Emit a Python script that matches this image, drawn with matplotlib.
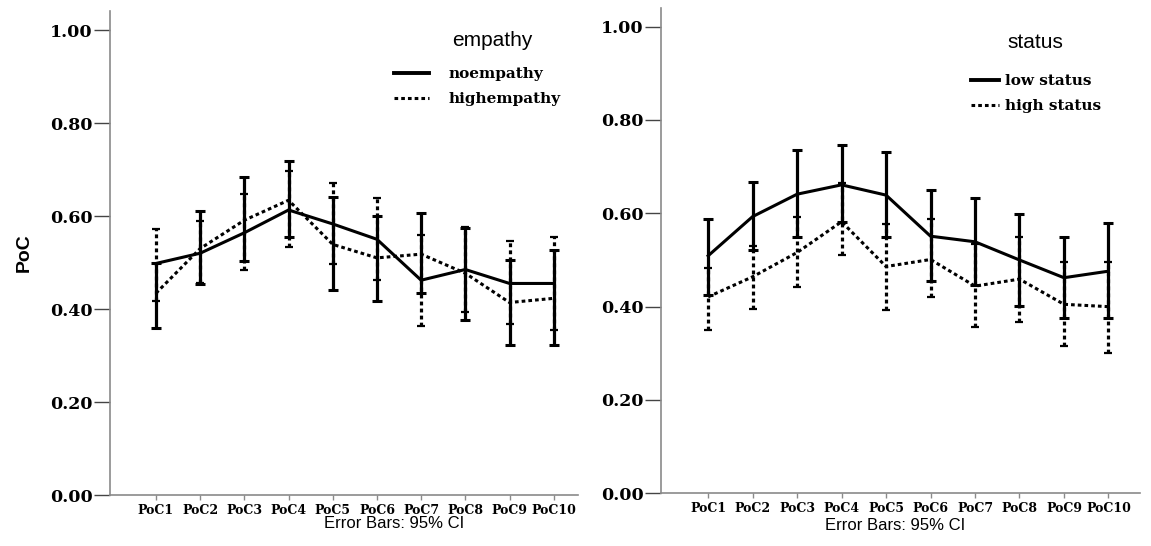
import numpy as np
import matplotlib.pyplot as plt
from matplotlib.lines import Line2D

# categorias
cats = ['PoC1', 'PoC2', 'PoC3', 'PoC4', 'PoC5', 'PoC6', 'PoC7', 'PoC8', 'PoC9', 'PoC10']

# painel esquerdo: empathy
noemp_mean = [0.498, 0.520, 0.564, 0.613, 0.583, 0.550, 0.462, 0.485, 0.455, 0.455]
noemp_lo   = [0.360, 0.453, 0.504, 0.554, 0.441, 0.418, 0.434, 0.376, 0.323, 0.323]
noemp_hi   = [0.500, 0.611, 0.683, 0.719, 0.642, 0.600, 0.606, 0.575, 0.505, 0.527]
highemp_mean = [0.434, 0.530, 0.591, 0.634, 0.539, 0.510, 0.518, 0.477, 0.414, 0.423]
highemp_lo   = [0.417, 0.455, 0.484, 0.534, 0.497, 0.462, 0.363, 0.394, 0.367, 0.355]
highemp_hi   = [0.573, 0.590, 0.647, 0.697, 0.670, 0.638, 0.559, 0.576, 0.547, 0.554]

# painel direito: status
low_mean = [0.509, 0.593, 0.641, 0.661, 0.639, 0.551, 0.539, 0.500, 0.462, 0.476]
low_lo   = [0.425, 0.521, 0.549, 0.582, 0.549, 0.456, 0.446, 0.402, 0.375, 0.376]
low_hi   = [0.588, 0.667, 0.736, 0.746, 0.731, 0.649, 0.632, 0.599, 0.549, 0.580]
high_mean = [0.421, 0.464, 0.516, 0.582, 0.486, 0.501, 0.444, 0.459, 0.405, 0.400]
high_lo   = [0.351, 0.396, 0.443, 0.511, 0.393, 0.421, 0.357, 0.368, 0.315, 0.300]
high_hi   = [0.482, 0.530, 0.593, 0.666, 0.577, 0.587, 0.534, 0.550, 0.496, 0.496]

yticks = [0.0, 0.2, 0.4, 0.6, 0.8, 1.0]

W, H = 1151, 546
fig = plt.figure(figsize=(W / 100, H / 100), dpi=100)

DOT = (0, (1.2, 1.0))
serif_b = dict(family='DejaVu Serif', weight='bold')


def painel(rect, xlim, ylim, solid, dotted):
    ax = fig.add_axes(rect)
    x = np.arange(len(cats))
    # pontilhado primeiro, sólido por cima
    for (m, lo, hi), ls, cs, ct in [(dotted, DOT, 2.6, 1.6), (solid, '-', 3.6, 2.2)]:
        lo = np.array(lo)
        hi = np.array(hi)
        mid = (lo + hi) / 2
        eb = ax.errorbar(x, mid, yerr=(hi - lo) / 2, fmt='none', ecolor='black',
                         elinewidth=2.3, capsize=cs, capthick=ct)
        eb[2][0].set_linestyle(ls)
        ax.plot(x, m, color='black', lw=2.2, linestyle=ls)
    ax.set_xlim(*xlim)
    ax.set_ylim(*ylim)
    ax.set_xticks(x)
    ax.set_xticklabels(cats, fontsize=9, **serif_b)
    ax.set_yticks(yticks)
    ax.set_yticklabels(['%.2f' % v for v in yticks], fontsize=12.5, **serif_b)
    ax.spines['top'].set_visible(False)
    ax.spines['right'].set_visible(False)
    for s in ['left', 'bottom']:
        ax.spines[s].set_color('#8a8a8a')
        ax.spines[s].set_linewidth(1.2)
    ax.tick_params(axis='y', length=11.5, width=1.0, color='#444444', pad=1)
    ax.tick_params(axis='x', length=3.6, width=1.0, color='#8a8a8a', pad=3)
    return ax


axL = painel([110 / W, 51 / H, 468 / W, 484 / H], (-1.04, 9.55), (0, 1.041),
             (noemp_mean, noemp_lo, noemp_hi), (highemp_mean, highemp_lo, highemp_hi))
axR = painel([661 / W, 52.7 / H, 479 / W, 485.3 / H], (-1.06, 9.71), (0, 1.04),
             (low_mean, low_lo, low_hi), (high_mean, high_lo, high_hi))

axL.set_ylabel('PoC', fontsize=14, fontweight='bold', family='Liberation Sans', labelpad=12)

# legendas (título como texto à parte, alinhado com os rótulos)
def legenda(ax, titulo, nomes, pos, tpos, hlen, hpad):
    handles = [Line2D([], [], color='black', lw=2.8, ls='-'),
               Line2D([], [], color='black', lw=2.2, ls=DOT)]
    ax.legend(handles, nomes, frameon=False, loc='upper left',
              bbox_to_anchor=(pos[0] / W, 1 - pos[1] / H), bbox_transform=fig.transFigure,
              prop=dict(family='DejaVu Serif', weight='bold', size=11),
              handlelength=hlen, handletextpad=hpad, labelspacing=0.73,
              borderpad=0, borderaxespad=0)
    fig.text(tpos[0] / W, 1 - tpos[1] / H, titulo, ha='left', va='center',
             fontsize=15, family='Liberation Sans')


legenda(axL, 'empathy', ['noempathy', 'highempathy'], (394, 67), (452, 40), 2.3, 1.25)
legenda(axR, 'status', ['low status', 'high status'], (971, 74), (1007, 43), 1.8, 0.4)

fig.text(394 / W, 1 - 524 / H, 'Error Bars: 95% CI', ha='center', va='center',
         fontsize=12, family='Liberation Sans')
fig.text(895 / W, 1 - 526 / H, 'Error Bars: 95% CI', ha='center', va='center',
         fontsize=12, family='Liberation Sans')

fig.savefig('out.png', dpi=100)
